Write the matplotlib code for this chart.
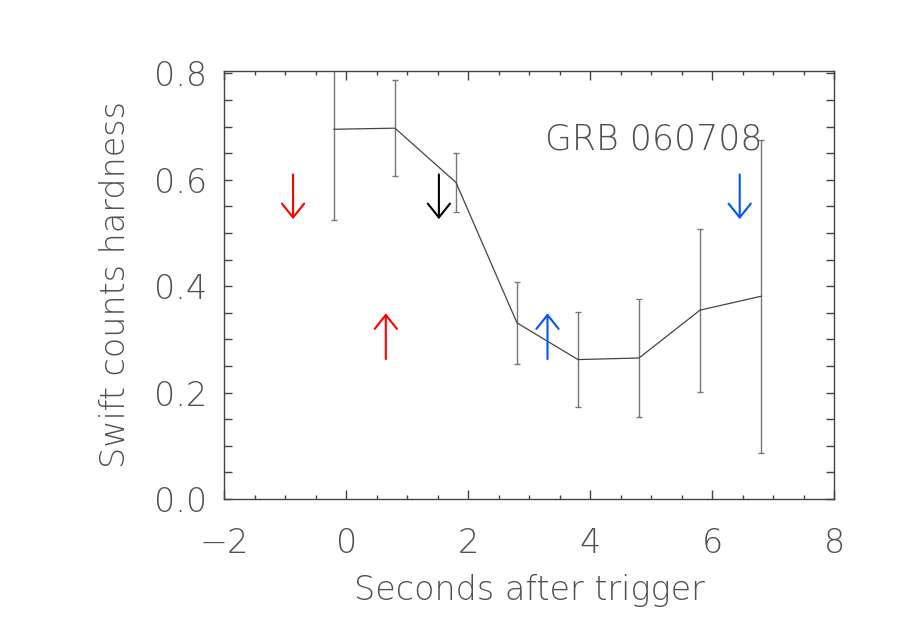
import matplotlib
matplotlib.use("Agg")
import matplotlib.pyplot as plt
from matplotlib.ticker import MultipleLocator
import numpy as np

# hardness ratio per 1 s bin
t = [-0.2, 0.8, 1.8, 2.8, 3.8, 4.8, 5.8, 6.8]
hardness = [0.695, 0.697, 0.595, 0.331, 0.262, 0.265, 0.355, 0.381]
hardness_err = [0.171, 0.090, 0.056, 0.077, 0.090, 0.110, 0.153, 0.294]

# marker arrows
arrow_x = [-0.87, 0.65, 1.52, 3.3, 6.45]
arrow_from = [0.610, 0.263, 0.610, 0.263, 0.610]
arrow_to = [0.526, 0.349, 0.526, 0.349, 0.526]
arrow_colors = ["#ff0000", "#ff0000", "#000000", "#0055ff", "#0055ff"]

plt.rcParams['font.family'] = ['DejaVu Sans']
txt_color = "#505050"
W = 200
FS = 24

fig = plt.figure(figsize=(9, 6.43), dpi=100)
ax = fig.add_axes([0.249, 0.224, 0.678, 0.666])

ax.errorbar(t, hardness, yerr=hardness_err, color="#444444", lw=0.9,
            ecolor="#777777", elinewidth=1.0, capsize=2.5, capthick=1.0)

for x, y0, y1, c in zip(arrow_x, arrow_from, arrow_to, arrow_colors):
    ax.annotate('', xy=(x, y1), xytext=(x, y0),
                arrowprops=dict(arrowstyle='->,head_length=1.0,head_width=0.8',
                                color=c, lw=1.5, mutation_scale=10,
                                shrinkA=0, shrinkB=0))

ax.text(3.26, 0.675, "GRB 060708", fontsize=FS + 1, fontweight=W,
        color=txt_color, va='center', ha='left')

ax.set_xlim(-2, 8)
ax.set_ylim(0, 0.805)
ax.xaxis.set_major_locator(MultipleLocator(2))
ax.xaxis.set_minor_locator(MultipleLocator(0.5))
ax.yaxis.set_major_locator(MultipleLocator(0.2))
ax.yaxis.set_minor_locator(MultipleLocator(0.05))
ax.yaxis.set_major_formatter(plt.FuncFormatter(lambda v, p: "%.1f" % v))
ax.xaxis.set_major_formatter(plt.FuncFormatter(lambda v, p: "\u2212%d" % -v if v < 0 else "%d" % v))

ax.tick_params(axis='both', which='both', direction='in', top=True, right=True,
               color="#444444", width=1.0, labelcolor=txt_color, labelsize=FS)
ax.tick_params(axis='x', which='major', length=6.5, pad=20)
ax.tick_params(axis='x', which='minor', length=3)
ax.tick_params(axis='y', which='both', length=5.5, pad=12)
for lab in ax.get_xticklabels() + ax.get_yticklabels():
    lab.set_fontweight(W)
for s in ax.spines.values():
    s.set_color("#444444")
    s.set_linewidth(1.0)

ax.set_xlabel("Seconds after trigger", fontsize=FS, fontweight=W,
              color=txt_color, labelpad=10)
ax.set_ylabel("Swift counts hardness", fontsize=FS, fontweight=W,
              color=txt_color, labelpad=16)

fig.savefig("out.png", dpi=100)
